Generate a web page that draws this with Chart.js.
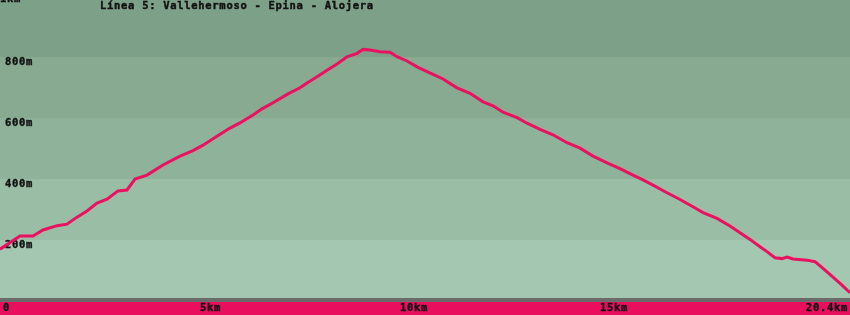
<!DOCTYPE html>
<html>
<head>
<meta charset="utf-8">
<script src="https://cdn.jsdelivr.net/npm/chart.js@4.4.1/dist/chart.umd.min.js"></script>
<style>
  html, body { margin: 0; padding: 0; background: #7da088; }
  #c { display: block; }
</style>
</head>
<body>
<canvas id="c" width="850" height="315"></canvas>
<script>
// ---- data ----
const titleText = "Línea 5: Vallehermoso - Epina - Alojera";
const distanceKm = [0, 0.5, 0.825, 1.075, 1.425, 1.675, 1.925, 2.175, 2.425, 2.675, 2.95, 3.175, 3.375, 3.675, 4.075, 4.5, 4.825, 5.075, 5.375, 5.75, 6.0, 6.325, 6.55, 6.825, 7.2, 7.5, 7.675, 7.925, 8.175, 8.425, 8.675, 8.925, 9.075, 9.25, 9.5, 9.75, 9.925, 10.175, 10.45, 10.825, 11.075, 11.425, 11.75, 12.075, 12.325, 12.575, 12.925, 13.175, 13.5, 13.825, 14.175, 14.5, 14.825, 15.175, 15.5, 15.825, 16.075, 16.325, 16.675, 17.0, 17.325, 17.575, 17.925, 18.25, 18.5, 18.75, 19.0, 19.175, 19.375, 19.55, 19.675, 19.825, 20.175, 20.375, 20.575, 20.825, 21.05, 21.25];
const elevationM = [170, 213, 213, 233, 247, 252, 275, 295, 321, 334, 361, 364, 400, 413, 446, 475, 493, 511, 536, 567, 584, 610, 630, 650, 679, 699, 715, 735, 757, 777, 801, 812, 825, 823, 817, 816, 801, 787, 766, 743, 728, 699, 681, 653, 640, 619, 601, 583, 563, 545, 519, 501, 475, 453, 434, 413, 397, 380, 355, 333, 309, 290, 271, 246, 224, 202, 178, 162, 142, 139, 144, 138, 134, 129, 107, 78, 52, 27];
const xTickValues = [0, 5, 10, 15, 21.25];
const xTickLabels = ["0", "5km", "10km", "15km", "20.4km"];
const yTickValues = [200, 400, 600, 800, 1000];
const yTickLabels = ["200m", "400m", "600m", "800m", "1km"];
const bandEdges = [0, 200, 400, 600, 800, 1000];
const bandColors = ["#a3c7b0", "#9abea5", "#8fb39a", "#87aa91", "#7da088"];

const FONT = "bold 10.5px 'DejaVu Sans Mono'";
const SPACING = "0.7px";
const TEXT = "#121212";

function boldText(ctx, s, x, y) {
  ctx.fillText(s, x, y);
  ctx.strokeText(s, x, y);
}

const decor = {
  id: 'decor',
  beforeDatasetsDraw(chart) {
    const ctx = chart.ctx, y = chart.scales.y, a = chart.chartArea;
    ctx.save();
    for (let i = 0; i < bandColors.length; i++) {
      const top = y.getPixelForValue(bandEdges[i + 1]);
      const bot = y.getPixelForValue(bandEdges[i]);
      ctx.fillStyle = bandColors[i];
      ctx.fillRect(a.left, top, a.right - a.left, bot - top);
    }
    ctx.font = FONT;
    ctx.letterSpacing = SPACING;
    ctx.fillStyle = TEXT;
    ctx.strokeStyle = TEXT;
    ctx.lineWidth = 0.4;
    ctx.textBaseline = "alphabetic";
    ctx.textAlign = "left";
    for (let i = 0; i < yTickValues.length; i++) {
      const py = y.getPixelForValue(yTickValues[i]);
      const last = i === yTickValues.length - 1;
      boldText(ctx, yTickLabels[i], last ? 0 : 5, py + (last ? 5.5 : 8));
    }
    boldText(ctx, titleText, 100, 9);
    ctx.restore();
  },
  afterDraw(chart) {
    const ctx = chart.ctx, x = chart.scales.x, a = chart.chartArea;
    const W = chart.width, H = chart.height;
    ctx.save();
    ctx.fillStyle = "#6b6b6b";
    ctx.fillRect(0, a.bottom - 3, W, 4);
    ctx.fillStyle = "#ea0f5e";
    ctx.fillRect(0, a.bottom + 1, W, H - a.bottom - 1);
    ctx.font = FONT;
    ctx.letterSpacing = SPACING;
    ctx.fillStyle = TEXT;
    ctx.strokeStyle = TEXT;
    ctx.lineWidth = 0.4;
    ctx.textBaseline = "alphabetic";
    for (let i = 0; i < xTickValues.length; i++) {
      let px = x.getPixelForValue(xTickValues[i]);
      if (i === xTickValues.length - 1) { ctx.textAlign = "right"; px -= 2; }
      else { ctx.textAlign = "left"; if (i === 0) px += 3; }
      boldText(ctx, xTickLabels[i], px, a.bottom + 10);
    }
    ctx.restore();
  }
};

new Chart(document.getElementById('c'), {
  type: 'line',
  data: {
    datasets: [{
      data: distanceKm.map((d, i) => ({ x: d, y: elevationM[i] })),
      borderColor: "#ea1160",
      borderWidth: 3,
      pointRadius: 0,
      tension: 0,
      fill: false
    }]
  },
  options: {
    responsive: false,
    animation: false,
    devicePixelRatio: 1,
    layout: { padding: { left: 0, right: 0, top: 0, bottom: 14 } },
    plugins: { legend: { display: false }, tooltip: { enabled: false }, title: { display: false } },
    scales: {
      x: { type: 'linear', min: 0, max: 21.25, display: false },
      y: { type: 'linear', min: 0, max: 987, display: false }
    }
  },
  plugins: [decor]
});
</script>
</body>
</html>
